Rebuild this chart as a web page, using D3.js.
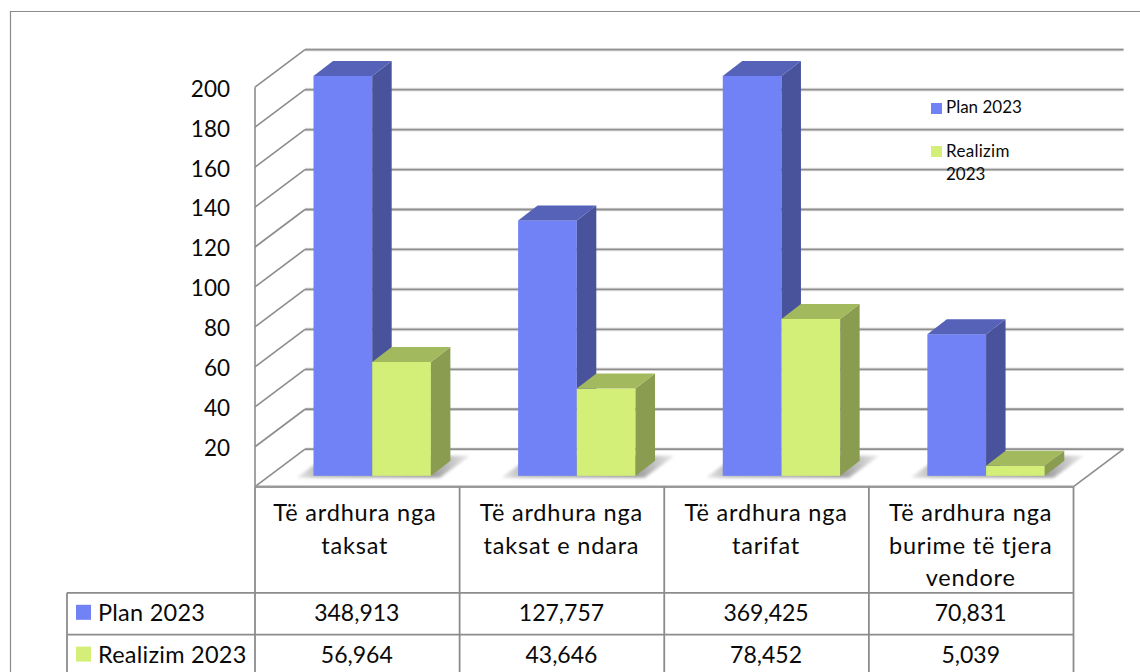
<!DOCTYPE html>
<html><head><meta charset="utf-8">
<style>html,body{margin:0;padding:0;background:#fff}svg{display:block}text{font-family:Lato,"Open Sans",sans-serif;fill:#0a0a0a}</style>
<script src="https://cdn.jsdelivr.net/npm/d3@7/dist/d3.min.js"></script>
</head><body><svg id="c" width="1140" height="672"></svg>
<script>
const categories=[["Të ardhura nga","taksat"],["Të ardhura nga","taksat e ndara"],["Të ardhura nga","tarifat"],["Të ardhura nga","burime të tjera","vendore"]];
const seriesNames=["Plan 2023","Realizim 2023"];
const plan=[348.913,127.757,369.425,70.831];
const realizim=[56.964,43.646,78.452,5.039];
const planLabels=["348,913","127,757","369,425","70,831"];
const realizimLabels=["56,964","43,646","78,452","5,039"];
const yTicks=[20,40,60,80,100,120,140,160,180,200];
const colors={plan:{front:"#7082f6",side:"#49539c",top:"#5562b8"},real:{front:"#d3ef78",side:"#8a9c50",top:"#a3b95e"}};

const svg=d3.select("#c");
const W=1140,H=672;
const grid="#8c8c8c";
svg.append("path").attr("d","M10.5,672V11.5H1140").attr("fill","none").attr("stroke",grid).attr("stroke-width",1.2);

const x0=255,x1=1073.5;
const wall={dx:50,dy:-37.5};
const yFront=d3.scaleLinear().domain([0,200]).range([486.7,87.2]).clamp(true);
const yBar=d3.scaleLinear().domain([0,200]).range([475.8,76]).clamp(true);
const xCat=d3.scaleBand().domain(d3.range(4)).range([x0,x1]);
const barW=58.7, barOff=58.5, depth={dx:19.5,dy:-15};

const defs=svg.append("defs");
defs.append("filter").attr("id","blur").attr("x","-20%").attr("y","-40%").attr("width","140%").attr("height","180%")
  .append("feGaussianBlur").attr("stdDeviation",1.6);
const sh=defs.append("linearGradient").attr("id","shadow").attr("x1",0).attr("x2",1).attr("y1",0).attr("y2",0);
sh.append("stop").attr("offset",0).attr("stop-color","#ececec");
sh.append("stop").attr("offset",0.12).attr("stop-color","#bcbcbc");
sh.append("stop").attr("offset",0.78).attr("stop-color","#9c9c9c");
sh.append("stop").attr("offset",1).attr("stop-color","#ececec");

const g=svg.append("g").attr("fill","none").attr("stroke",grid);
[0].concat(yTicks).forEach(v=>{
  const y=yFront(v);
  g.append("line").attr("x1",x0+wall.dx).attr("y1",y+wall.dy).attr("x2",x1+wall.dx).attr("y2",y+wall.dy).attr("stroke-width",3.6).attr("stroke","#e4e4e4");
  g.append("line").attr("x1",x0).attr("y1",y).attr("x2",x0+wall.dx).attr("y2",y+wall.dy).attr("stroke-width",1.6);
  g.append("line").attr("x1",x0+wall.dx).attr("y1",y+wall.dy).attr("x2",x1+wall.dx).attr("y2",y+wall.dy).attr("stroke-width",1.8).attr("stroke","#8f8f8f");
});
g.append("line").attr("x1",x0).attr("y1",yFront(200)).attr("x2",x0).attr("y2",yFront(0)).attr("stroke-width",1.6);
g.append("line").attr("x1",x1).attr("y1",yFront(0)).attr("x2",x1+wall.dx).attr("y2",yFront(0)+wall.dy).attr("stroke-width",1.6);

const axis=d3.axisLeft(yFront).tickValues(yTicks).tickSize(0).tickPadding(0);
const ag=svg.append("g").attr("transform","translate(230,0.8)").call(axis);
ag.select(".domain").remove();
ag.selectAll("text").attr("font-size",22.5).attr("dy","0.36em").style("font-family","Lato,sans-serif");

function bar(parent,x,w,v,c){
  const yT=yBar(v),yB=yBar(0),d=depth;
  const gb=parent.append("g");
  gb.append("rect").attr("x",x).attr("y",yT).attr("width",w).attr("height",yB-yT).attr("fill",c.front);
  gb.append("path").attr("fill",c.side).attr("d",d3.line()([[x+w,yT],[x+w+d.dx,yT+d.dy],[x+w+d.dx,yB+d.dy],[x+w,yB]]));
  gb.append("path").attr("fill",c.top).attr("d",d3.line()([[x,yT],[x+d.dx,yT+d.dy],[x+w+d.dx,yT+d.dy],[x+w,yT]]));
}
const bg=svg.append("g");
categories.forEach((_,i)=>{
  const x=xCat(i)+barOff;
  const yB=yBar(0);
  bg.append("path").attr("fill","url(#shadow)").attr("filter","url(#blur)")
    .attr("d",d3.line()([[x-17,yB+2],[x+2*barW+9,yB+2],[x+2*barW+39,yB-20],[x+13,yB-20]]));
  bar(bg,x,barW,plan[i],colors.plan);
  bar(bg,x+barW,barW,realizim[i],colors.real);
});

const cols=xCat.domain().map(i=>xCat(i));
const t=svg.append("g").attr("fill","none").attr("stroke",grid).attr("stroke-width",1.8);
const yHead=592.8,yRow1=634.6,xL=67;
t.append("line").attr("x1",x0).attr("x2",x1).attr("y1",yFront(0)).attr("y2",yFront(0)).attr("stroke","#9a9a9a").attr("stroke-width",2.4);
[yHead,yRow1].forEach(y=>t.append("line").attr("x1",xL).attr("x2",x1).attr("y1",y).attr("y2",y));
cols.concat([x1]).forEach(x=>t.append("line").attr("x1",x).attr("x2",x).attr("y1",yFront(0)).attr("y2",H));
t.append("line").attr("x1",xL).attr("x2",xL).attr("y1",yHead).attr("y2",H);

const fsHead=23.5, fsNum=23, fsKey=23.5;
categories.forEach((lines,i)=>{
  const cx=xCat(i)+xCat.bandwidth()/2-0.5;
  const hx=i===0?cx-2:cx;
  lines.forEach((s,j)=>svg.append("text").attr("x",hx).attr("y",521+j*32.6).attr("text-anchor","middle").attr("font-size",fsHead).attr("letter-spacing",0.8).text(s));
  svg.append("text").attr("x",cx).attr("y",620.7).attr("text-anchor","middle").attr("font-size",fsNum).text(planLabels[i]);
  svg.append("text").attr("x",cx).attr("y",662.5).attr("text-anchor","middle").attr("font-size",fsNum).text(realizimLabels[i]);
});
[[yHead,colors.plan.front],[yRow1,colors.real.front]].forEach(([y,c],i)=>{
  svg.append("rect").attr("x",76).attr("y",y+12).attr("width",15).attr("height",15).attr("fill",c);
  svg.append("text").attr("x",98).attr("y",y+28.4).attr("font-size",fsKey).attr("letter-spacing",0.25).text(seriesNames[i]);
});
svg.append("rect").attr("x",931).attr("y",103).attr("width",11).attr("height",11).attr("fill",colors.plan.front);
svg.append("text").attr("x",946).attr("y",113).attr("font-size",17).text(seriesNames[0]);
svg.append("rect").attr("x",931).attr("y",146).attr("width",11).attr("height",11).attr("fill",colors.real.front);
const parts=seriesNames[1].split(" ");
svg.append("text").attr("x",946).attr("y",157).attr("font-size",17).attr("letter-spacing",0.3).text(parts[0]);
svg.append("text").attr("x",946).attr("y",180).attr("font-size",17).text(parts[1]);
</script></body></html>
